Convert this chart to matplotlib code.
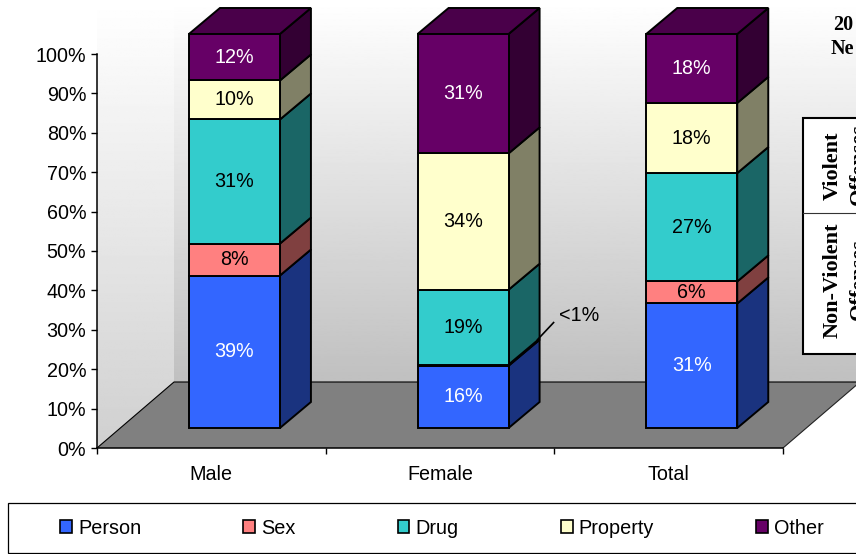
import numpy as np
import matplotlib
matplotlib.use("Agg")
import matplotlib.pyplot as plt
from matplotlib.patches import Patch, Polygon, Rectangle

categories = ["Male", "Female", "Total"]
series = ["Person", "Sex", "Drug", "Property", "Other"]
person = [38.7, 15.8, 31.6]
sex = [8.1, 0.3, 5.6]
drug = [31.5, 19.0, 27.5]
prop = [9.9, 34.6, 17.8]
other = [11.8, 30.3, 17.5]
label_person = ["39%", "16%", "31%"]
label_sex = ["8%", "", "6%"]
label_drug = ["31%", "19%", "27%"]
label_prop = ["10%", "34%", "18%"]
label_other = ["12%", "31%", "18%"]
y_ticks = [0, 10, 20, 30, 40, 50, 60, 70, 80, 90, 100]
y_tick_labels = ["0%", "10%", "20%", "30%", "40%", "50%", "60%", "70%", "80%", "90%", "100%"]

front_colors = ["#3366FF", "#FF8080", "#33CCCC", "#FFFFCC", "#660066"]
side_colors = ["#1A337F", "#804040", "#1A6666", "#808066", "#330033"]
top_color = "#4A004A"
text_colors = ["white", "black", "black", "black", "white"]

W, H = 856, 554
plt.rcParams["font.family"] = ["Liberation Sans", "DejaVu Sans"]
FS = 14.2
fig = plt.figure(figsize=(W / 100, H / 100), dpi=100)
ax = fig.add_axes([97 / W, 1 - 448 / H, 686 / W, 394 / H])
ax.patch.set_visible(False)

px_x = 3 / 686
px_y = 100 / 394
wall_dx, wall_dy = 77 * px_x, 66 * px_y
bar_dx, bar_dy = 31 * px_x, 26 * px_y
front_dy = 20 * px_y
bar_w = 91 * px_x
bar_off = 0.402

# walls with vertical gradient
grad = np.linspace(0, 1, 256)[:, None]
top_y = 448 * px_y  # picture top in data units
left_clip = Polygon([(0, 0), (wall_dx, wall_dy), (wall_dx, top_y), (0, top_y)],
                    transform=ax.transData, fill=False, ec="none")
back_clip = Polygon([(wall_dx, wall_dy), (3.4, wall_dy), (3.4, top_y), (wall_dx, top_y)],
                    transform=ax.transData, fill=False, ec="none")
for clip, low in ((left_clip, 200), (back_clip, 192)):
    ax.add_patch(clip)
    g = 255 + (low - 255) * grad
    im = ax.imshow(g, cmap="gray", vmin=0, vmax=255, aspect="auto", origin="upper",
                   extent=(0, 3.4, wall_dy, top_y), zorder=0.5)
    if low == 200:
        im.set_extent((0, wall_dx, 0, top_y))
        im.set_data(255 + (low + 8 - 255) * grad)
    im.set_clip_box(fig.bbox)
    im.set_clip_path(clip)
ax.set_xlim(0, 3)
ax.set_ylim(0, 100)

# floor
floor = [(0, 0), (wall_dx, wall_dy), (3 + wall_dx, wall_dy), (3, 0)]
ax.add_patch(Polygon(floor, closed=True, fc="#808080", ec="none", zorder=1, clip_on=False))
ax.plot([0, wall_dx, 3 + wall_dx], [0, wall_dy, wall_dy], color="black", lw=0.8, zorder=1.5, clip_on=False)
ax.plot([3, 3 + wall_dx], [0, wall_dy], color="#222222", lw=0.8, zorder=1.5, clip_on=False)

values = [person, sex, drug, prop, other]
labels = [label_person, label_sex, label_drug, label_prop, label_other]
LW = 1.4
for i in range(len(categories)):
    x0 = i + bar_off
    x1 = x0 + bar_w
    bottom = front_dy
    for s in range(len(series)):
        v = values[s][i]
        top = bottom + v
        ax.fill([x1, x1 + bar_dx, x1 + bar_dx, x1],
                [bottom, bottom + bar_dy, top + bar_dy, top],
                fc=side_colors[s], ec="black", lw=LW, zorder=3, clip_on=False, joinstyle="miter")
        ax.bar(x0, v, width=bar_w, bottom=bottom, align="edge", color=front_colors[s],
               edgecolor="black", linewidth=LW, zorder=4, clip_on=False)
        if labels[s][i]:
            ax.text((x0 + x1) / 2, bottom + v / 2, labels[s][i], color=text_colors[s],
                    ha="center", va="center", fontsize=FS, zorder=5)
        bottom = top
    ax.fill([x0, x0 + bar_dx, x1 + bar_dx, x1],
            [bottom, bottom + bar_dy, bottom + bar_dy, bottom],
            fc=top_color, ec="black", lw=LW, zorder=3, clip_on=False, joinstyle="miter")

# <1% callout on the Female bar
sliver_top = front_dy + person[1] + sex[1]
i_f = 1 + bar_off + bar_w
ax.plot([i_f + 29 * px_x, i_f + 45 * px_x], [sliver_top + 25 * px_y, sliver_top + 42 * px_y],
        color="black", lw=1.2, zorder=6, clip_on=False)
ax.text(i_f + 71 * px_x, sliver_top + 49 * px_y, "<1%", ha="center", va="center", fontsize=FS, zorder=6)

# axes
for sp in ("top", "right"):
    ax.spines[sp].set_visible(False)
for sp in ("left", "bottom"):
    ax.spines[sp].set_linewidth(1.1)
    ax.spines[sp].set_zorder(2)
ax.set_yticks(y_ticks)
ax.set_yticklabels(y_tick_labels, fontsize=FS)
ax.tick_params(axis="y", length=4.3, width=1.0, pad=3.4)
ax.set_xticks([0, 1, 2, 3])
ax.set_xticklabels([])
ax.tick_params(axis="x", which="major", length=4.3, width=1.0)
ax.set_xticks([0.5, 1.5, 2.5], minor=True)
ax.set_xticklabels(categories, minor=True, fontsize=FS)
ax.tick_params(axis="x", which="minor", length=0, pad=12.5)

# overlapping text table at right
fig.add_artist(Rectangle((803 / W, 1 - 354 / H), 80 / W, 236 / H, fc="white", ec="black", lw=1.5,
                         transform=fig.transFigure, zorder=7))
fig.add_artist(plt.Line2D([803 / W, 1], [1 - 213 / H] * 2, color="#333333", lw=0.8, zorder=8))
serif = dict(family="Liberation Serif", fontweight="bold", zorder=9)
for x, y, t in [(838, 166, "Violent"), (838, 280, "Non-Violent"),
                (864, 164, "Offenses"), (864, 279, "Offenses")]:
    fig.text(x / W, 1 - y / H, t, rotation=90, ha="center", va="baseline", rotation_mode="anchor",
             fontsize=16, **serif)
fig.text(833 / W, 1 - 30 / H, "20", fontsize=14.5, ha="left", va="baseline", **serif)
fig.text(831 / W, 1 - 54 / H, "Ne", fontsize=14.5, ha="left", va="baseline", **serif)

# legend
fig.add_artist(Rectangle((8 / W, 1 - 553 / H), 870 / W, 50 / H, fc="white", ec="black", lw=0.9,
                         transform=fig.transFigure, zorder=1))
handles = [Patch(fc=c, ec="black", lw=1.2, label=n) for c, n in zip(front_colors, series)]
leg = fig.legend(handles=handles, loc="center left", bbox_to_anchor=(60 / W, 1 - 528 / H),
                 ncols=5, frameon=False, fontsize=14.3, handlelength=0.6, handleheight=0.6,
                 handletextpad=0.31, columnspacing=5.13, borderpad=0, borderaxespad=0)
leg.set_zorder(3)

fig.savefig("out.png", dpi=100)
